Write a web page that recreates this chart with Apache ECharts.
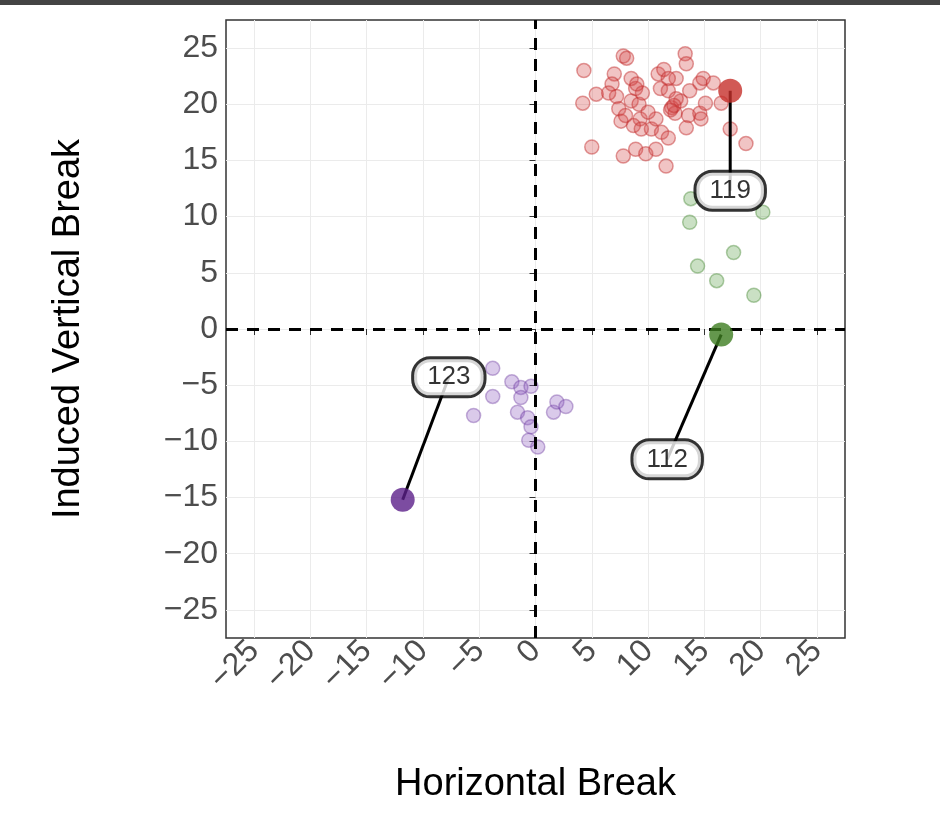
<!DOCTYPE html>
<html><head><meta charset="utf-8">
<script src="https://cdn.jsdelivr.net/npm/echarts@6/dist/echarts.min.js"></script>
<style>body{margin:0;background:#fff}#bar{position:absolute;left:0;top:0;width:940px;height:5px;background:#444;z-index:2}#c{width:940px;height:829px}</style>
</head><body><div id="bar"></div><div id="c"></div>
<script>
var redPts=[[4.3,23.0],[5.4,20.9],[4.2,20.1],[5.0,16.2],[7.8,24.3],[8.1,24.1],[7.0,22.7],[6.8,21.8],[7.2,20.7],[7.4,19.6],[7.6,18.5],[8.5,22.3],[8.9,21.4],[8.5,20.3],[9.2,20.0],[9.3,18.7],[8.7,18.1],[9.4,17.8],[7.8,15.4],[8.9,16.0],[9.8,15.6],[10.7,16.0],[11.6,14.5],[10.3,17.8],[11.2,17.5],[11.8,17.0],[10.7,18.7],[10.9,22.7],[11.4,23.1],[11.1,21.4],[11.8,21.2],[12.5,22.3],[12.1,19.7],[12.4,19.2],[12.9,20.3],[13.3,24.5],[13.4,23.6],[13.7,21.2],[13.6,19.0],[13.4,17.9],[14.6,19.2],[14.7,18.7],[14.6,21.9],[14.9,22.3],[15.8,21.9],[15.1,20.1],[16.5,20.1],[17.3,17.8],[18.7,16.5],[11.8,22.3],[9.5,21.0],[12.0,19.5],[8.0,19.0],[10.0,19.3],[6.5,21.0],[12.5,20.5],[9.0,21.8],[12.3,19.9]];
var greenPts=[[13.8,11.6],[13.7,9.5],[14.4,5.6],[16.1,4.3],[17.6,6.8],[19.4,3.0],[20.2,10.4]];
var purplePts=[[-3.8,-3.5],[-3.8,-6.0],[-5.5,-7.7],[-2.1,-4.7],[-1.3,-5.2],[-1.3,-6.1],[-0.4,-5.1],[-1.6,-7.4],[-0.7,-7.9],[-0.4,-8.7],[-0.6,-9.9],[0.2,-10.5],[1.6,-7.4],[1.9,-6.5],[2.7,-6.9]];
var highlights=[{name:'119',pt:[17.3,21.2],lab:[17.3,12.3],color:'#c62f2a'},{name:'112',pt:[16.5,-0.5],lab:[11.7,-11.6],color:'#3d7d21'},{name:'123',pt:[-11.8,-15.2],lab:[-7.7,-4.3],color:'#5b1f8a'}];
var tickVals=[-25,-20,-15,-10,-5,0,5,10,15,20,25];
function fmt(v){return tickVals.indexOf(v)>=0?String(v).replace('-','\u2212'):'';}
function ax(name,isX){return {type:'value',min:-27.5,max:27.5,interval:2.5,name:name,nameLocation:'middle',
 nameGap:isX?128:138,nameTextStyle:{fontSize:38,color:'#000',fontFamily:'Liberation Sans'},
 axisLine:{show:false},axisTick:{show:true,customValues:tickVals,length:6,lineStyle:{color:'#333'}},
 axisLabel:{customValues:tickVals,formatter:fmt,fontSize:32,color:'#4d4d4d',fontFamily:'Liberation Sans',rotate:isX?45:0,margin:isX?8:8},
 splitLine:{show:true,lineStyle:{color:'#ebebeb',width:1}}};}
var series=[
 {type:'scatter',data:redPts,symbolSize:14,itemStyle:{color:'rgba(210,70,70,0.4)',borderColor:'rgba(195,45,45,0.6)',borderWidth:1.5},z:3},
 {type:'scatter',data:greenPts,symbolSize:14,itemStyle:{color:'rgba(90,160,70,0.4)',borderColor:'rgba(60,130,40,0.5)',borderWidth:1.5},z:3},
 {type:'scatter',data:purplePts,symbolSize:14,itemStyle:{color:'rgba(140,90,190,0.4)',borderColor:'rgba(110,60,160,0.5)',borderWidth:1.5},z:3,
  markLine:{silent:true,symbol:'none',label:{show:false},lineStyle:{color:'#000',type:[12,9],width:3},data:[{xAxis:0},{yAxis:0}]}}
];
highlights.forEach(function(h){
 series.push({type:'line',data:[h.pt,h.lab],symbol:'none',lineStyle:{color:'#000',width:3},z:4});
 series.push({type:'scatter',data:[h.pt],symbolSize:24,itemStyle:{color:h.color},z:5});
 series.push({type:'scatter',data:[h.lab],symbolSize:1,zlevel:1,itemStyle:{color:'transparent'},z:6,
  label:{show:true,position:'inside',formatter:h.name,fontSize:26,color:'#000',fontFamily:'Liberation Sans',backgroundColor:'#fff',borderColor:'#000',borderWidth:3,borderRadius:16,padding:[6,13,4,13]}});
});
var chart=echarts.init(document.getElementById('c'));
chart.setOption({animation:false,
 grid:{left:226,right:95,top:20,bottom:191,show:true,borderColor:'#333',borderWidth:1.5},
 xAxis:ax('Horizontal Break',true),yAxis:ax('Induced Vertical Break',false),series:series});
</script></body></html>
